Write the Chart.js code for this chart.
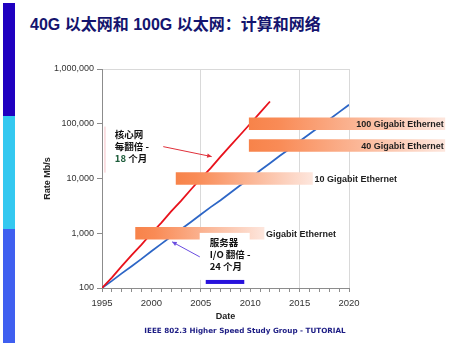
<!DOCTYPE html>
<html>
<head>
<meta charset="utf-8">
<script src="https://cdn.jsdelivr.net/npm/chart.js@4.4.0/dist/chart.umd.min.js"></script>
<style>
  body { margin: 0; width: 461px; height: 348px; background: #fff; position: relative; overflow: hidden; }
  .band { position: absolute; left: 3px; width: 12px; }
  #title { position: absolute; left: 30px; top: 14px; font: bold 16px Arial, "Liberation Sans", "Noto Sans CJK SC", sans-serif; color: #14146e; white-space: nowrap; line-height: 22px; }
  #footer { position: absolute; left: 0; width: 490px; top: 326px; text-align: center; font: bold 7.2px "DejaVu Sans", sans-serif; color: #1c1c84; line-height: 9px; }
  #chart { position: absolute; left: 0; top: 0; }
</style>
</head>
<body>
<div class="band" style="top:3px;height:113px;background:#1f00c0"></div>
<div class="band" style="top:116px;height:113px;background:#34c8f0"></div>
<div class="band" style="top:229px;height:114px;background:#3f5ff0"></div>
<div id="title">40G 以太网和 100G 以太网：计算和网络</div>
<canvas id="chart" width="461" height="348"></canvas>
<div id="footer">IEEE 802.3 Higher Speed Study Group - TUTORIAL</div>
<script>
// rate trends, Mb/s per year
const coreYears = [1995, 1996, 1997, 1998, 1999, 2000, 2001, 2002, 2003, 2004, 2005, 2006, 2007, 2008, 2009, 2010, 2011, 2012];
const coreRate = [100, 155, 250, 400, 620, 1000, 1550, 2500, 3900, 6300, 10000, 15500, 25000, 40000, 63000, 100000, 160000, 255000];
const serverYears = [1995, 1996, 1997, 1998, 1999, 2000, 2001, 2002, 2003, 2004, 2005, 2006, 2007, 2008, 2009, 2010, 2011, 2012, 2013, 2014, 2015, 2016, 2017, 2018, 2019, 2020];
const serverRate = [100, 135, 185, 250, 340, 470, 640, 870, 1180, 1600, 2200, 3000, 4000, 5500, 7500, 10000, 14000, 19000, 26000, 35000, 48000, 65000, 88000, 120000, 163000, 222000];

// ethernet generations
const ethNames = ['Gigabit Ethernet', '10 Gigabit Ethernet', '40 Gigabit Ethernet', '100 Gigabit Ethernet'];
const ethRate = [1000, 10000, 40000, 100000];
const ethFrom = [1998.4, 2002.5, 2009.9, 2009.9];
const ethTo = [2011.4, 2016.3, 2029.7, 2029.7];

const yTicks = [100, 1000, 10000, 100000, 1000000];
const xLabelEvery = 5;
const xGridYears = [2005, 2015, 2020];

Chart.defaults.font.family = 'Arial, "Liberation Sans", sans-serif';
Chart.defaults.color = '#333';

const clear = 'rgba(0,0,0,0)';
const axisGrey = '#8c8c8c';

// orange bar fading out to the right
function fadeFill(c) {
  const xs = c.chart.scales.x;
  if (c.type !== 'data' || !xs || !c.chart.chartArea) return '#f7854c';
  const x0 = xs.getPixelForValue(c.raw.x[0]);
  const x1 = xs.getPixelForValue(c.raw.x[1]);
  if (!isFinite(x0) || !isFinite(x1)) return '#f7854c';
  const g = c.chart.ctx.createLinearGradient(x0, 0, x1, 0);
  g.addColorStop(0, '#f7834a');
  g.addColorStop(0.15, '#f98b56');
  g.addColorStop(1, '#fde6dd');
  return g;
}

function arrow(ctx, x0, y0, x1, y1, color) {
  const a = Math.atan2(y1 - y0, x1 - x0);
  ctx.strokeStyle = color; ctx.fillStyle = color; ctx.lineWidth = 1;
  ctx.beginPath(); ctx.moveTo(x0, y0); ctx.lineTo(x1, y1); ctx.stroke();
  ctx.beginPath();
  ctx.moveTo(x1, y1);
  ctx.lineTo(x1 - 5 * Math.cos(a - 0.45), y1 - 5 * Math.sin(a - 0.45));
  ctx.lineTo(x1 - 5 * Math.cos(a + 0.45), y1 - 5 * Math.sin(a + 0.45));
  ctx.closePath(); ctx.fill();
}

// bar labels, callouts and the server swatch
const notes = {
  id: 'notes',
  afterDatasetsDraw(chart) {
    const { ctx, scales: { x, y } } = chart;
    const px = v => x.getPixelForValue(v);
    const py = v => y.getPixelForValue(v);
    ctx.save();

    ctx.font = 'bold 9px Arial, "Liberation Sans", sans-serif';
    ctx.fillStyle = '#1e1e1e';
    ctx.textBaseline = 'middle';
    ethNames.forEach((name, i) => {
      const end = px(ethTo[i]);
      if (ethTo[i] > x.max) {
        ctx.textAlign = 'right';
        ctx.fillText(name, end - 1, py(ethRate[i]) + 1);
      } else {
        ctx.textAlign = 'left';
        ctx.fillText(name, end + 2, py(ethRate[i]) + 1);
      }
    });

    // faint marker left of the core callout
    ctx.strokeStyle = 'rgba(235,120,130,0.45)';
    ctx.lineWidth = 1;
    ctx.beginPath();
    ctx.moveTo(px(1995.3), py(88900));
    ctx.lineTo(px(1995.3), py(12800));
    ctx.stroke();

    const cjk = 'bold 9.5px "Noto Sans CJK SC", sans-serif';
    const lh = 11.7;
    ctx.textAlign = 'left';
    ctx.font = cjk;

    // core network callout
    const cx = px(1996.3), cy = py(63000);
    ctx.fillStyle = '#111';
    ctx.fillText('核心网', cx, cy);
    ctx.fillText('每翻倍 -', cx, cy + lh);
    ctx.fillStyle = '#1d5c3a';
    ctx.fillText('18', cx, cy + 2 * lh);
    const w18 = ctx.measureText('18').width;
    ctx.fillStyle = '#111';
    ctx.fillText(' 个月', cx + w18, cy + 2 * lh);
    arrow(ctx, px(2001.2), py(38200), px(2006.1), py(25100), '#e0303a');

    // server I/O callout
    const sx = px(2005.9), sy = py(667);
    ctx.fillStyle = '#fff';
    ctx.fillRect(sx - 10, sy - 10, 50, 47);
    ctx.fillStyle = '#111';
    ctx.fillText('服务器', sx, sy);
    ctx.fillText('I/O 翻倍 -', sx, sy + lh);
    ctx.fillText('24 个月', sx, sy + 2 * lh);
    arrow(ctx, px(2004.9), py(370), px(2002.1), py(696), '#6a4de0');

    ctx.fillStyle = '#2812dc';
    ctx.fillRect(px(2005.5), py(129) - 2, px(2009.4) - px(2005.5), 4);

    ctx.restore();
  }
};

new Chart(document.getElementById('chart'), {
  type: 'line',
  data: {
    datasets: [
      {
        type: 'bar',
        label: 'Ethernet',
        indexAxis: 'y',
        data: ethNames.map((n, i) => ({ x: [ethFrom[i], ethTo[i]], y: ethRate[i] })),
        backgroundColor: fadeFill,
        borderWidth: 0,
        barThickness: 12,
        clip: false,
        order: 0
      },
      {
        label: '核心网',
        data: coreYears.map((yr, i) => ({ x: yr, y: coreRate[i] })),
        borderColor: '#e8121c',
        borderWidth: 1.8,
        pointRadius: 0,
        order: 1
      },
      {
        label: '服务器 I/O',
        data: serverYears.map((yr, i) => ({ x: yr, y: serverRate[i] })),
        borderColor: '#2d66c6',
        borderWidth: 1.8,
        pointRadius: 0,
        order: 1
      }
    ]
  },
  options: {
    responsive: false,
    animation: false,
    events: [],
    layout: { padding: { left: 38, right: 112, top: 69, bottom: 22 } },
    plugins: { legend: { display: false }, tooltip: { enabled: false } },
    scales: {
      x: {
        type: 'linear',
        min: 1995,
        max: 2020,
        offset: false,
        beginAtZero: false,
        border: { color: axisGrey },
        grid: {
          offset: false,
          color: c => xGridYears.includes(c.tick && c.tick.value) ? '#d9d9d9' : clear,
          tickColor: axisGrey,
          tickLength: 4
        },
        ticks: {
          stepSize: 1,
          autoSkip: false,
          maxRotation: 0,
          padding: 6,
          font: { size: 9.5 },
          callback: v => (v % xLabelEvery === 0 ? String(v) : '')
        },
        title: { display: true, text: 'Date', color: '#222', font: { size: 9, weight: 'bold' }, padding: { top: 2, bottom: 4 } },
        afterFit: s => { s.height = 38; }
      },
      y: {
        type: 'logarithmic',
        min: 100,
        max: 1000000,
        offset: false,
        border: { color: axisGrey },
        grid: {
          offset: false,
          color: c => (c.tick && c.tick.value === 1000000 ? '#d9d9d9' : clear),
          tickColor: axisGrey,
          tickLength: 5
        },
        afterBuildTicks: s => { s.ticks = yTicks.map(v => ({ value: v })); },
        ticks: {
          padding: 3,
          font: { size: 9 },
          callback: v => Number(v).toLocaleString('en-US')
        },
        title: { display: true, text: 'Rate Mb/s', color: '#222', font: { size: 9, weight: 'bold' } },
        afterFit: s => { s.width = 64; }
      }
    }
  },
  plugins: [notes]
});
</script>
</body>
</html>
